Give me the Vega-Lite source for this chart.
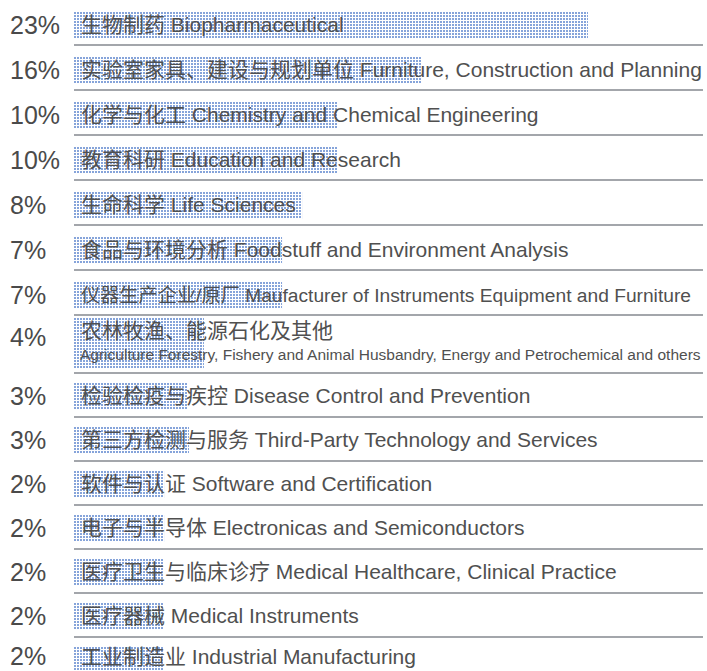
{
  "$schema": "https://vega.github.io/schema/vega-lite/v6.json",
  "padding": 0,
  "spacing": 0,
  "bounds": "flush",
  "background": "#ffffff",
  "config": {"view": {"stroke": null}, "concat": {"spacing": 0}},
  "resolve": {"scale": {"y": "independent"}},
  "data": {"values": [
    {"grp": "A", "pct": "23%", "label": "生物制药 Biopharmaceutical", "base": 0, "bar": 24.36},
    {"grp": "A", "pct": "16%", "label": "实验室家具、建设与规划单位 Furniture, Construction and Planning", "base": 0, "bar": 16.49},
    {"grp": "A", "pct": "10%", "label": "化学与化工 Chemistry and Chemical Engineering", "base": 0, "bar": 12.51},
    {"grp": "A", "pct": "10%", "label": "教育科研 Education and Research", "base": 0, "bar": 12.51},
    {"grp": "A", "pct": "8%", "label": "生命科学 Life Sciences", "base": 0, "bar": 10.81},
    {"grp": "A", "pct": "7%", "label": "食品与环境分析 Foodstuff and Environment Analysis", "base": 0, "bar": 9.86},
    {"grp": "A", "pct": "7%", "label": "仪器生产企业/原厂 Maufacturer of Instruments Equipment and Furniture", "base": 0, "bar": 9.86},
    {"grp": "B", "pct": "4%", "label": "农林牧渔、能源石化及其他", "sub": "Agriculture Forestry, Fishery and Animal Husbandry, Energy and Petrochemical and others", "base": 0, "bar": 6.16},
    {"grp": "C", "pct": "3%", "label": "检验检疫与疾控 Disease Control and Prevention", "base": 0, "bar": 5.40},
    {"grp": "C", "pct": "3%", "label": "第三方检测与服务 Third-Party Technology and Services", "base": 0, "bar": 5.45},
    {"grp": "C", "pct": "2%", "label": "软件与认证 Software and Certification", "base": 0, "bar": 4.27},
    {"grp": "C", "pct": "2%", "label": "电子与半导体 Electronicas and Semiconductors", "base": 0, "bar": 4.27},
    {"grp": "C", "pct": "2%", "label": "医疗卫生与临床诊疗 Medical Healthcare, Clinical Practice", "base": 0, "bar": 4.22},
    {"grp": "C", "pct": "2%", "label": "医疗器械 Medical Instruments", "base": 0, "bar": 4.22},
    {"grp": "D", "pct": "2%", "label": "工业制造业 Industrial Manufacturing", "base": 0, "bar": 4.22}
  ]},
  "vconcat": [
    {
      "width": 707, "height": 315,
      "transform": [{"filter": "datum.grp == 'A'"}],
      "encoding": {
        "x": {"field": "base", "type": "quantitative", "scale": {"domain": [-3.507, 30], "nice": false, "zero": false}, "axis": null},
        "y": {"field": "label", "type": "nominal", "sort": null, "axis": null, "bandPosition": 0.5, "scale": {"type": "band", "paddingInner": 0, "paddingOuter": 0}}
      },
      "layer": [
        {"mark": {"type": "rule", "strokeWidth": 27, "strokeDash": [2, 1], "strokeCap": "butt", "color": "#86a4da", "yOffset": 3},
         "encoding": {"x2": {"field": "bar"}}},
        {"mark": {"type": "bar", "height": 27, "yOffset": 3, "fill": {"gradient": "linear", "x1": 0, "y1": 0, "x2": 0, "y2": 1, "stops": [
          {"offset": 0, "color": "rgba(255,255,255,0)"}, {"offset": 0.0741, "color": "rgba(255,255,255,0)"}, {"offset": 0.0741, "color": "#ffffff"}, {"offset": 0.1111, "color": "#ffffff"},
          {"offset": 0.1111, "color": "rgba(255,255,255,0)"}, {"offset": 0.1852, "color": "rgba(255,255,255,0)"}, {"offset": 0.1852, "color": "#ffffff"}, {"offset": 0.2222, "color": "#ffffff"},
          {"offset": 0.2222, "color": "rgba(255,255,255,0)"}, {"offset": 0.2963, "color": "rgba(255,255,255,0)"}, {"offset": 0.2963, "color": "#ffffff"}, {"offset": 0.3333, "color": "#ffffff"},
          {"offset": 0.3333, "color": "rgba(255,255,255,0)"}, {"offset": 0.4074, "color": "rgba(255,255,255,0)"}, {"offset": 0.4074, "color": "#ffffff"}, {"offset": 0.4444, "color": "#ffffff"},
          {"offset": 0.4444, "color": "rgba(255,255,255,0)"}, {"offset": 0.5185, "color": "rgba(255,255,255,0)"}, {"offset": 0.5185, "color": "#ffffff"}, {"offset": 0.5556, "color": "#ffffff"},
          {"offset": 0.5556, "color": "rgba(255,255,255,0)"}, {"offset": 0.6296, "color": "rgba(255,255,255,0)"}, {"offset": 0.6296, "color": "#ffffff"}, {"offset": 0.6667, "color": "#ffffff"},
          {"offset": 0.6667, "color": "rgba(255,255,255,0)"}, {"offset": 0.7407, "color": "rgba(255,255,255,0)"}, {"offset": 0.7407, "color": "#ffffff"}, {"offset": 0.7778, "color": "#ffffff"},
          {"offset": 0.7778, "color": "rgba(255,255,255,0)"}, {"offset": 0.8519, "color": "rgba(255,255,255,0)"}, {"offset": 0.8519, "color": "#ffffff"}, {"offset": 0.8889, "color": "#ffffff"},
          {"offset": 0.8889, "color": "rgba(255,255,255,0)"}, {"offset": 0.963, "color": "rgba(255,255,255,0)"}, {"offset": 0.963, "color": "#ffffff"}, {"offset": 1, "color": "#ffffff"}
        ]}},
         "encoding": {"x2": {"field": "bar"}}},
        {"mark": {"type": "rule", "color": "#a3a6ab", "strokeWidth": 2},
         "encoding": {"x2": {"datum": 29.81}, "y": {"field": "label", "type": "nominal", "sort": null, "axis": null, "bandPosition": 1}}},
        {"mark": {"type": "text", "align": "left", "baseline": "middle", "dx": -64, "dy": 3, "fontSize": 25, "font": "Liberation Sans, Noto Sans CJK SC", "color": "#4a4a4a"},
         "encoding": {"text": {"field": "pct"}}},
        {"mark": {"type": "text", "align": "left", "baseline": "middle", "dx": 7, "dy": 3, "font": "Liberation Sans, Noto Sans CJK SC", "color": "#505050"},
         "encoding": {"text": {"field": "label"}, "size": {"condition": {"test": "indexof(datum.label, 'Maufacturer') >= 0", "value": 19.2}, "value": 21}}}
      ]
    },
    {
      "width": 707, "height": 58,
      "transform": [{"filter": "datum.grp == 'B'"}],
      "encoding": {
        "x": {"field": "base", "type": "quantitative", "scale": {"domain": [-3.507, 30], "nice": false, "zero": false}, "axis": null},
        "y": {"field": "label", "type": "nominal", "sort": null, "axis": null, "bandPosition": 0.5, "scale": {"type": "band", "paddingInner": 0, "paddingOuter": 0}}
      },
      "layer": [
        {"mark": {"type": "rule", "strokeWidth": 51, "strokeDash": [2, 1], "strokeCap": "butt", "color": "#86a4da", "yOffset": -0.5},
         "encoding": {"x2": {"field": "bar"}}},
        {"mark": {"type": "bar", "height": 51, "yOffset": -0.5, "fill": {"gradient": "linear", "x1": 0, "y1": 0, "x2": 0, "y2": 1, "stops": [
          {"offset": 0, "color": "rgba(255,255,255,0)"}, {"offset": 0.0392, "color": "rgba(255,255,255,0)"}, {"offset": 0.0392, "color": "#ffffff"}, {"offset": 0.0588, "color": "#ffffff"},
          {"offset": 0.0588, "color": "rgba(255,255,255,0)"}, {"offset": 0.0980, "color": "rgba(255,255,255,0)"}, {"offset": 0.0980, "color": "#ffffff"}, {"offset": 0.1176, "color": "#ffffff"},
          {"offset": 0.1176, "color": "rgba(255,255,255,0)"}, {"offset": 0.1569, "color": "rgba(255,255,255,0)"}, {"offset": 0.1569, "color": "#ffffff"}, {"offset": 0.1765, "color": "#ffffff"},
          {"offset": 0.1765, "color": "rgba(255,255,255,0)"}, {"offset": 0.2157, "color": "rgba(255,255,255,0)"}, {"offset": 0.2157, "color": "#ffffff"}, {"offset": 0.2353, "color": "#ffffff"},
          {"offset": 0.2353, "color": "rgba(255,255,255,0)"}, {"offset": 0.2745, "color": "rgba(255,255,255,0)"}, {"offset": 0.2745, "color": "#ffffff"}, {"offset": 0.2941, "color": "#ffffff"},
          {"offset": 0.2941, "color": "rgba(255,255,255,0)"}, {"offset": 0.3333, "color": "rgba(255,255,255,0)"}, {"offset": 0.3333, "color": "#ffffff"}, {"offset": 0.3529, "color": "#ffffff"},
          {"offset": 0.3529, "color": "rgba(255,255,255,0)"}, {"offset": 0.3922, "color": "rgba(255,255,255,0)"}, {"offset": 0.3922, "color": "#ffffff"}, {"offset": 0.4118, "color": "#ffffff"},
          {"offset": 0.4118, "color": "rgba(255,255,255,0)"}, {"offset": 0.4510, "color": "rgba(255,255,255,0)"}, {"offset": 0.4510, "color": "#ffffff"}, {"offset": 0.4706, "color": "#ffffff"},
          {"offset": 0.4706, "color": "rgba(255,255,255,0)"}, {"offset": 0.5098, "color": "rgba(255,255,255,0)"}, {"offset": 0.5098, "color": "#ffffff"}, {"offset": 0.5294, "color": "#ffffff"},
          {"offset": 0.5294, "color": "rgba(255,255,255,0)"}, {"offset": 0.5686, "color": "rgba(255,255,255,0)"}, {"offset": 0.5686, "color": "#ffffff"}, {"offset": 0.5882, "color": "#ffffff"},
          {"offset": 0.5882, "color": "rgba(255,255,255,0)"}, {"offset": 0.6275, "color": "rgba(255,255,255,0)"}, {"offset": 0.6275, "color": "#ffffff"}, {"offset": 0.6471, "color": "#ffffff"},
          {"offset": 0.6471, "color": "rgba(255,255,255,0)"}, {"offset": 0.6863, "color": "rgba(255,255,255,0)"}, {"offset": 0.6863, "color": "#ffffff"}, {"offset": 0.7059, "color": "#ffffff"},
          {"offset": 0.7059, "color": "rgba(255,255,255,0)"}, {"offset": 0.7451, "color": "rgba(255,255,255,0)"}, {"offset": 0.7451, "color": "#ffffff"}, {"offset": 0.7647, "color": "#ffffff"},
          {"offset": 0.7647, "color": "rgba(255,255,255,0)"}, {"offset": 0.8039, "color": "rgba(255,255,255,0)"}, {"offset": 0.8039, "color": "#ffffff"}, {"offset": 0.8235, "color": "#ffffff"},
          {"offset": 0.8235, "color": "rgba(255,255,255,0)"}, {"offset": 0.8627, "color": "rgba(255,255,255,0)"}, {"offset": 0.8627, "color": "#ffffff"}, {"offset": 0.8824, "color": "#ffffff"},
          {"offset": 0.8824, "color": "rgba(255,255,255,0)"}, {"offset": 0.9216, "color": "rgba(255,255,255,0)"}, {"offset": 0.9216, "color": "#ffffff"}, {"offset": 0.9412, "color": "#ffffff"},
          {"offset": 0.9412, "color": "rgba(255,255,255,0)"}, {"offset": 0.9804, "color": "rgba(255,255,255,0)"}, {"offset": 0.9804, "color": "#ffffff"}, {"offset": 1, "color": "#ffffff"}
        ]}},
         "encoding": {"x2": {"field": "bar"}}},
        {"mark": {"type": "rule", "color": "#a3a6ab", "strokeWidth": 2},
         "encoding": {"x2": {"datum": 29.81}, "y": {"field": "label", "type": "nominal", "sort": null, "axis": null, "bandPosition": 1}}},
        {"mark": {"type": "text", "align": "left", "baseline": "middle", "dx": -64, "dy": -6, "fontSize": 25, "font": "Liberation Sans, Noto Sans CJK SC", "color": "#4a4a4a"},
         "encoding": {"text": {"field": "pct"}}},
        {"mark": {"type": "text", "align": "left", "baseline": "middle", "dx": 7, "dy": -12, "fontSize": 21, "font": "Liberation Sans, Noto Sans CJK SC", "color": "#505050"},
         "encoding": {"text": {"field": "label"}}},
        {"mark": {"type": "text", "align": "left", "baseline": "middle", "dx": 6, "dy": 11, "fontSize": 15.5, "font": "Liberation Sans Narrow, Liberation Sans", "color": "#505050"},
         "encoding": {"text": {"field": "sub"}}}
      ]
    },
    {
      "width": 707, "height": 264,
      "transform": [{"filter": "datum.grp == 'C'"}],
      "encoding": {
        "x": {"field": "base", "type": "quantitative", "scale": {"domain": [-3.507, 30], "nice": false, "zero": false}, "axis": null},
        "y": {"field": "label", "type": "nominal", "sort": null, "axis": null, "bandPosition": 0.5, "scale": {"type": "band", "paddingInner": 0, "paddingOuter": 0}}
      },
      "layer": [
        {"mark": {"type": "rule", "strokeWidth": 27, "strokeDash": [2, 1], "strokeCap": "butt", "color": "#86a4da", "yOffset": 1.5},
         "encoding": {"x2": {"field": "bar"}}},
        {"mark": {"type": "bar", "height": 27, "yOffset": 1.5, "fill": {"gradient": "linear", "x1": 0, "y1": 0, "x2": 0, "y2": 1, "stops": [
          {"offset": 0, "color": "rgba(255,255,255,0)"}, {"offset": 0.0741, "color": "rgba(255,255,255,0)"}, {"offset": 0.0741, "color": "#ffffff"}, {"offset": 0.1111, "color": "#ffffff"},
          {"offset": 0.1111, "color": "rgba(255,255,255,0)"}, {"offset": 0.1852, "color": "rgba(255,255,255,0)"}, {"offset": 0.1852, "color": "#ffffff"}, {"offset": 0.2222, "color": "#ffffff"},
          {"offset": 0.2222, "color": "rgba(255,255,255,0)"}, {"offset": 0.2963, "color": "rgba(255,255,255,0)"}, {"offset": 0.2963, "color": "#ffffff"}, {"offset": 0.3333, "color": "#ffffff"},
          {"offset": 0.3333, "color": "rgba(255,255,255,0)"}, {"offset": 0.4074, "color": "rgba(255,255,255,0)"}, {"offset": 0.4074, "color": "#ffffff"}, {"offset": 0.4444, "color": "#ffffff"},
          {"offset": 0.4444, "color": "rgba(255,255,255,0)"}, {"offset": 0.5185, "color": "rgba(255,255,255,0)"}, {"offset": 0.5185, "color": "#ffffff"}, {"offset": 0.5556, "color": "#ffffff"},
          {"offset": 0.5556, "color": "rgba(255,255,255,0)"}, {"offset": 0.6296, "color": "rgba(255,255,255,0)"}, {"offset": 0.6296, "color": "#ffffff"}, {"offset": 0.6667, "color": "#ffffff"},
          {"offset": 0.6667, "color": "rgba(255,255,255,0)"}, {"offset": 0.7407, "color": "rgba(255,255,255,0)"}, {"offset": 0.7407, "color": "#ffffff"}, {"offset": 0.7778, "color": "#ffffff"},
          {"offset": 0.7778, "color": "rgba(255,255,255,0)"}, {"offset": 0.8519, "color": "rgba(255,255,255,0)"}, {"offset": 0.8519, "color": "#ffffff"}, {"offset": 0.8889, "color": "#ffffff"},
          {"offset": 0.8889, "color": "rgba(255,255,255,0)"}, {"offset": 0.963, "color": "rgba(255,255,255,0)"}, {"offset": 0.963, "color": "#ffffff"}, {"offset": 1, "color": "#ffffff"}
        ]}},
         "encoding": {"x2": {"field": "bar"}}},
        {"mark": {"type": "rule", "color": "#a3a6ab", "strokeWidth": 2},
         "encoding": {"x2": {"datum": 29.81}, "y": {"field": "label", "type": "nominal", "sort": null, "axis": null, "bandPosition": 1}}},
        {"mark": {"type": "text", "align": "left", "baseline": "middle", "dx": -64, "dy": 2, "fontSize": 25, "font": "Liberation Sans, Noto Sans CJK SC", "color": "#4a4a4a"},
         "encoding": {"text": {"field": "pct"}}},
        {"mark": {"type": "text", "align": "left", "baseline": "middle", "dx": 7, "dy": 2, "fontSize": 21, "font": "Liberation Sans, Noto Sans CJK SC", "color": "#505050"},
         "encoding": {"text": {"field": "label"}}}
      ]
    },
    {
      "width": 707, "height": 34,
      "transform": [{"filter": "datum.grp == 'D'"}],
      "encoding": {
        "x": {"field": "base", "type": "quantitative", "scale": {"domain": [-3.507, 30], "nice": false, "zero": false}, "axis": null},
        "y": {"field": "label", "type": "nominal", "sort": null, "axis": null, "bandPosition": 0.5, "scale": {"type": "band", "paddingInner": 0, "paddingOuter": 0}}
      },
      "layer": [
        {"mark": {"type": "rule", "strokeWidth": 27, "strokeDash": [2, 1], "strokeCap": "butt", "color": "#86a4da", "yOffset": 6.5},
         "encoding": {"x2": {"field": "bar"}}},
        {"mark": {"type": "bar", "height": 27, "yOffset": 6.5, "fill": {"gradient": "linear", "x1": 0, "y1": 0, "x2": 0, "y2": 1, "stops": [
          {"offset": 0, "color": "rgba(255,255,255,0)"}, {"offset": 0.0741, "color": "rgba(255,255,255,0)"}, {"offset": 0.0741, "color": "#ffffff"}, {"offset": 0.1111, "color": "#ffffff"},
          {"offset": 0.1111, "color": "rgba(255,255,255,0)"}, {"offset": 0.1852, "color": "rgba(255,255,255,0)"}, {"offset": 0.1852, "color": "#ffffff"}, {"offset": 0.2222, "color": "#ffffff"},
          {"offset": 0.2222, "color": "rgba(255,255,255,0)"}, {"offset": 0.2963, "color": "rgba(255,255,255,0)"}, {"offset": 0.2963, "color": "#ffffff"}, {"offset": 0.3333, "color": "#ffffff"},
          {"offset": 0.3333, "color": "rgba(255,255,255,0)"}, {"offset": 0.4074, "color": "rgba(255,255,255,0)"}, {"offset": 0.4074, "color": "#ffffff"}, {"offset": 0.4444, "color": "#ffffff"},
          {"offset": 0.4444, "color": "rgba(255,255,255,0)"}, {"offset": 0.5185, "color": "rgba(255,255,255,0)"}, {"offset": 0.5185, "color": "#ffffff"}, {"offset": 0.5556, "color": "#ffffff"},
          {"offset": 0.5556, "color": "rgba(255,255,255,0)"}, {"offset": 0.6296, "color": "rgba(255,255,255,0)"}, {"offset": 0.6296, "color": "#ffffff"}, {"offset": 0.6667, "color": "#ffffff"},
          {"offset": 0.6667, "color": "rgba(255,255,255,0)"}, {"offset": 0.7407, "color": "rgba(255,255,255,0)"}, {"offset": 0.7407, "color": "#ffffff"}, {"offset": 0.7778, "color": "#ffffff"},
          {"offset": 0.7778, "color": "rgba(255,255,255,0)"}, {"offset": 0.8519, "color": "rgba(255,255,255,0)"}, {"offset": 0.8519, "color": "#ffffff"}, {"offset": 0.8889, "color": "#ffffff"},
          {"offset": 0.8889, "color": "rgba(255,255,255,0)"}, {"offset": 0.963, "color": "rgba(255,255,255,0)"}, {"offset": 0.963, "color": "#ffffff"}, {"offset": 1, "color": "#ffffff"}
        ]}},
         "encoding": {"x2": {"field": "bar"}}},
        {"mark": {"type": "text", "align": "left", "baseline": "middle", "dx": -64, "dy": 3, "fontSize": 25, "font": "Liberation Sans, Noto Sans CJK SC", "color": "#4a4a4a"},
         "encoding": {"text": {"field": "pct"}}},
        {"mark": {"type": "text", "align": "left", "baseline": "middle", "dx": 7, "dy": 4, "fontSize": 21, "font": "Liberation Sans, Noto Sans CJK SC", "color": "#505050"},
         "encoding": {"text": {"field": "label"}}}
      ]
    }
  ]
}
